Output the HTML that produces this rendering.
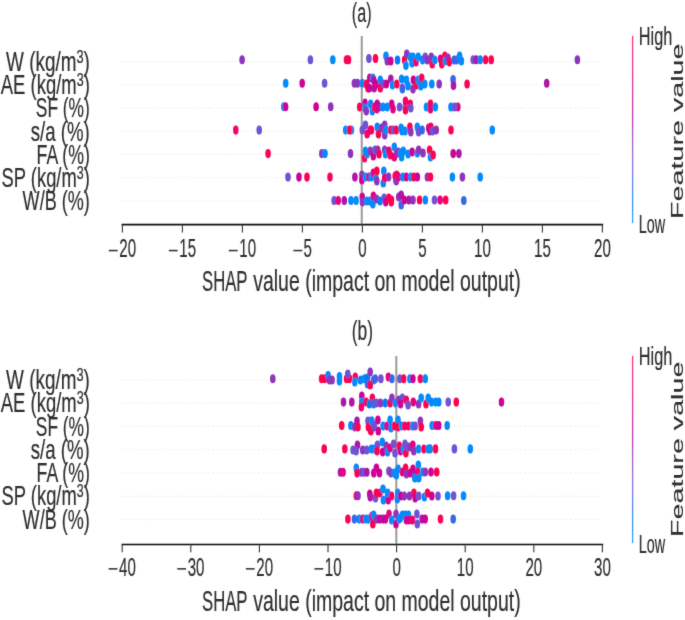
<!DOCTYPE html>
<html><head><meta charset="utf-8"><style>html,body{margin:0;padding:0;background:#fff;width:685px;height:620px;overflow:hidden}text{font-family:"Liberation Sans", sans-serif;stroke:#2e2e2e;stroke-width:0.2px} svg{display:block;will-change:transform;opacity:0.999}</style></head>
<body><svg width="685" height="620" viewBox="0 0 685 620" >
<defs><linearGradient id="cb" x1="0" y1="1" x2="0" y2="0"><stop offset="0.0" stop-color="#008bfb"/><stop offset="0.1" stop-color="#007cf5"/><stop offset="0.2" stop-color="#266cea"/><stop offset="0.3" stop-color="#6459da"/><stop offset="0.4" stop-color="#8542c5"/><stop offset="0.5" stop-color="#9d22ac"/><stop offset="0.6" stop-color="#b900a0"/><stop offset="0.7" stop-color="#d40090"/><stop offset="0.8" stop-color="#e9007c"/><stop offset="0.9" stop-color="#f80067"/><stop offset="1.0" stop-color="#ff0051"/></linearGradient></defs>
<filter id="bl" filterUnits="userSpaceOnUse" x="0" y="0" width="685" height="620"><feConvolveMatrix order="3" kernelMatrix="0.01134 0.08382 0.01134 0.08382 0.61935 0.08382 0.01134 0.08382 0.01134" divisor="1" preserveAlpha="false" edgeMode="none"/></filter>
<rect width="685" height="620" fill="#fff"/><g filter="url(#bl)">
<line x1="122.4" y1="61.50" x2="600" y2="61.50" stroke="#d8d8d8" stroke-width="0.9" stroke-dasharray="1 2.9"/>
<line x1="122.4" y1="84.75" x2="600" y2="84.75" stroke="#d8d8d8" stroke-width="0.9" stroke-dasharray="1 2.9"/>
<line x1="122.4" y1="108.00" x2="600" y2="108.00" stroke="#d8d8d8" stroke-width="0.9" stroke-dasharray="1 2.9"/>
<line x1="122.4" y1="131.25" x2="600" y2="131.25" stroke="#d8d8d8" stroke-width="0.9" stroke-dasharray="1 2.9"/>
<line x1="122.4" y1="154.50" x2="600" y2="154.50" stroke="#d8d8d8" stroke-width="0.9" stroke-dasharray="1 2.9"/>
<line x1="122.4" y1="177.75" x2="600" y2="177.75" stroke="#d8d8d8" stroke-width="0.9" stroke-dasharray="1 2.9"/>
<line x1="122.4" y1="201.00" x2="600" y2="201.00" stroke="#d8d8d8" stroke-width="0.9" stroke-dasharray="1 2.9"/>
<line x1="361.75" y1="36.0" x2="361.75" y2="224.6" stroke="#9a9a9a" stroke-width="2"/>
<ellipse cx="242.1" cy="59.8" rx="2.8" ry="4.55" fill="#8f36bb"/>
<ellipse cx="310.4" cy="59.8" rx="2.8" ry="4.55" fill="#6f52d4"/>
<ellipse cx="332.8" cy="59.8" rx="2.8" ry="4.55" fill="#008bfb"/>
<ellipse cx="346.5" cy="59.8" rx="2.8" ry="4.55" fill="#ff0051"/>
<ellipse cx="348.5" cy="59.8" rx="2.8" ry="4.55" fill="#ff0051"/>
<ellipse cx="368.9" cy="58.5" rx="2.8" ry="4.55" fill="#6f52d4"/>
<ellipse cx="375.5" cy="58.5" rx="2.8" ry="4.55" fill="#ff0051"/>
<ellipse cx="386.0" cy="56.0" rx="2.8" ry="4.55" fill="#008bfb"/>
<ellipse cx="387.3" cy="61.0" rx="2.8" ry="4.55" fill="#8f36bb"/>
<ellipse cx="390.8" cy="61.0" rx="2.8" ry="4.55" fill="#cd0095"/>
<ellipse cx="397.5" cy="60.0" rx="2.8" ry="4.55" fill="#007bf4"/>
<ellipse cx="404.6" cy="60.0" rx="2.8" ry="4.55" fill="#ff0051"/>
<ellipse cx="406.8" cy="54.0" rx="2.8" ry="4.55" fill="#8f36bb"/>
<ellipse cx="405.9" cy="65.5" rx="2.8" ry="4.55" fill="#008bfb"/>
<ellipse cx="410.3" cy="57.0" rx="2.8" ry="4.55" fill="#008bfb"/>
<ellipse cx="412.1" cy="63.0" rx="2.8" ry="4.55" fill="#008bfb"/>
<ellipse cx="413.0" cy="57.0" rx="2.8" ry="4.55" fill="#008bfb"/>
<ellipse cx="416.0" cy="62.0" rx="2.8" ry="4.55" fill="#f70069"/>
<ellipse cx="418.2" cy="57.0" rx="2.8" ry="4.55" fill="#008bfb"/>
<ellipse cx="422.6" cy="60.0" rx="2.8" ry="4.55" fill="#008bfb"/>
<ellipse cx="425.2" cy="57.0" rx="2.8" ry="4.55" fill="#6f52d4"/>
<ellipse cx="427.4" cy="60.0" rx="2.8" ry="4.55" fill="#8f36bb"/>
<ellipse cx="431.3" cy="57.0" rx="2.8" ry="4.55" fill="#8f36bb"/>
<ellipse cx="432.2" cy="64.0" rx="2.8" ry="4.55" fill="#ff0051"/>
<ellipse cx="434.8" cy="60.0" rx="2.8" ry="4.55" fill="#008bfb"/>
<ellipse cx="440.5" cy="59.0" rx="2.8" ry="4.55" fill="#e50080"/>
<ellipse cx="441.8" cy="64.0" rx="2.8" ry="4.55" fill="#ff0051"/>
<ellipse cx="444.9" cy="56.0" rx="2.8" ry="4.55" fill="#ff0051"/>
<ellipse cx="445.3" cy="61.0" rx="2.8" ry="4.55" fill="#008bfb"/>
<ellipse cx="448.0" cy="58.0" rx="2.8" ry="4.55" fill="#8f36bb"/>
<ellipse cx="449.3" cy="62.0" rx="2.8" ry="4.55" fill="#ff0051"/>
<ellipse cx="454.1" cy="60.0" rx="2.8" ry="4.55" fill="#3968e7"/>
<ellipse cx="456.6" cy="60.0" rx="2.8" ry="4.55" fill="#3968e7"/>
<ellipse cx="459.6" cy="56.0" rx="2.8" ry="4.55" fill="#008bfb"/>
<ellipse cx="461.4" cy="61.0" rx="2.8" ry="4.55" fill="#008bfb"/>
<ellipse cx="473.2" cy="59.8" rx="2.8" ry="4.55" fill="#6f52d4"/>
<ellipse cx="476.3" cy="59.8" rx="2.8" ry="4.55" fill="#ad13a6"/>
<ellipse cx="480.2" cy="59.8" rx="2.8" ry="4.55" fill="#008bfb"/>
<ellipse cx="485.5" cy="59.8" rx="2.8" ry="4.55" fill="#ff0051"/>
<ellipse cx="491.2" cy="59.8" rx="2.8" ry="4.55" fill="#ff0051"/>
<ellipse cx="577.4" cy="59.8" rx="2.8" ry="4.55" fill="#8f36bb"/>
<ellipse cx="285.7" cy="83.2" rx="2.8" ry="4.55" fill="#008bfb"/>
<ellipse cx="302.2" cy="83.2" rx="2.8" ry="4.55" fill="#cd0095"/>
<ellipse cx="324.6" cy="83.2" rx="2.8" ry="4.55" fill="#6f52d4"/>
<ellipse cx="354.4" cy="83.2" rx="2.8" ry="4.55" fill="#8f36bb"/>
<ellipse cx="357.5" cy="83.2" rx="2.8" ry="4.55" fill="#8f36bb"/>
<ellipse cx="362.3" cy="83.2" rx="2.8" ry="4.55" fill="#008bfb"/>
<ellipse cx="366.3" cy="84.0" rx="2.8" ry="4.55" fill="#ff0051"/>
<ellipse cx="368.0" cy="88.0" rx="2.8" ry="4.55" fill="#ff0051"/>
<ellipse cx="369.8" cy="78.0" rx="2.8" ry="4.55" fill="#cd0095"/>
<ellipse cx="369.3" cy="88.0" rx="2.8" ry="4.55" fill="#cd0095"/>
<ellipse cx="372.8" cy="78.0" rx="2.8" ry="4.55" fill="#008bfb"/>
<ellipse cx="373.7" cy="80.0" rx="2.8" ry="4.55" fill="#ad13a6"/>
<ellipse cx="374.2" cy="88.0" rx="2.8" ry="4.55" fill="#ad13a6"/>
<ellipse cx="375.9" cy="84.0" rx="2.8" ry="4.55" fill="#cd0095"/>
<ellipse cx="380.3" cy="80.0" rx="2.8" ry="4.55" fill="#008bfb"/>
<ellipse cx="380.3" cy="88.0" rx="2.8" ry="4.55" fill="#ff0051"/>
<ellipse cx="383.3" cy="84.0" rx="2.8" ry="4.55" fill="#6f52d4"/>
<ellipse cx="386.4" cy="84.0" rx="2.8" ry="4.55" fill="#cd0095"/>
<ellipse cx="390.8" cy="79.0" rx="2.8" ry="4.55" fill="#ad13a6"/>
<ellipse cx="392.5" cy="85.0" rx="2.8" ry="4.55" fill="#008bfb"/>
<ellipse cx="396.8" cy="84.0" rx="2.8" ry="4.55" fill="#ff0051"/>
<ellipse cx="401.6" cy="79.0" rx="2.8" ry="4.55" fill="#008bfb"/>
<ellipse cx="402.4" cy="88.0" rx="2.8" ry="4.55" fill="#8f36bb"/>
<ellipse cx="402.4" cy="89.0" rx="2.8" ry="4.55" fill="#3968e7"/>
<ellipse cx="406.4" cy="80.0" rx="2.8" ry="4.55" fill="#008bfb"/>
<ellipse cx="408.1" cy="86.0" rx="2.8" ry="4.55" fill="#008bfb"/>
<ellipse cx="413.4" cy="80.0" rx="2.8" ry="4.55" fill="#cd0095"/>
<ellipse cx="413.0" cy="89.0" rx="2.8" ry="4.55" fill="#8f36bb"/>
<ellipse cx="416.5" cy="85.0" rx="2.8" ry="4.55" fill="#ff0051"/>
<ellipse cx="418.2" cy="80.0" rx="2.8" ry="4.55" fill="#008bfb"/>
<ellipse cx="421.7" cy="78.0" rx="2.8" ry="4.55" fill="#ff0051"/>
<ellipse cx="420.8" cy="86.0" rx="2.8" ry="4.55" fill="#008bfb"/>
<ellipse cx="424.8" cy="84.0" rx="2.8" ry="4.55" fill="#008bfb"/>
<ellipse cx="431.8" cy="84.0" rx="2.8" ry="4.55" fill="#008bfb"/>
<ellipse cx="439.2" cy="84.0" rx="2.8" ry="4.55" fill="#8f36bb"/>
<ellipse cx="453.1" cy="79.5" rx="2.8" ry="4.55" fill="#3968e7"/>
<ellipse cx="453.5" cy="85.5" rx="2.8" ry="4.55" fill="#ad13a6"/>
<ellipse cx="467.1" cy="84.0" rx="2.8" ry="4.55" fill="#ff0051"/>
<ellipse cx="546.7" cy="83.2" rx="2.8" ry="4.55" fill="#ad13a6"/>
<ellipse cx="283.8" cy="106.7" rx="2.8" ry="4.55" fill="#008bfb"/>
<ellipse cx="285.6" cy="106.7" rx="2.8" ry="4.55" fill="#cd0095"/>
<ellipse cx="316.1" cy="106.7" rx="2.8" ry="4.55" fill="#cd0095"/>
<ellipse cx="330.7" cy="106.7" rx="2.8" ry="4.55" fill="#8f36bb"/>
<ellipse cx="359.7" cy="107.0" rx="2.8" ry="4.55" fill="#ff0051"/>
<ellipse cx="365.0" cy="103.0" rx="2.8" ry="4.55" fill="#cd0095"/>
<ellipse cx="365.0" cy="108.0" rx="2.8" ry="4.55" fill="#008bfb"/>
<ellipse cx="366.3" cy="111.0" rx="2.8" ry="4.55" fill="#8f36bb"/>
<ellipse cx="370.6" cy="104.0" rx="2.8" ry="4.55" fill="#008bfb"/>
<ellipse cx="372.4" cy="111.0" rx="2.8" ry="4.55" fill="#008bfb"/>
<ellipse cx="374.6" cy="107.0" rx="2.8" ry="4.55" fill="#f70069"/>
<ellipse cx="377.2" cy="104.0" rx="2.8" ry="4.55" fill="#cd0095"/>
<ellipse cx="376.8" cy="109.0" rx="2.8" ry="4.55" fill="#f70069"/>
<ellipse cx="379.4" cy="107.0" rx="2.8" ry="4.55" fill="#ad13a6"/>
<ellipse cx="382.9" cy="107.0" rx="2.8" ry="4.55" fill="#008bfb"/>
<ellipse cx="387.3" cy="107.0" rx="2.8" ry="4.55" fill="#008bfb"/>
<ellipse cx="391.7" cy="104.0" rx="2.8" ry="4.55" fill="#cd0095"/>
<ellipse cx="393.0" cy="109.0" rx="2.8" ry="4.55" fill="#e50080"/>
<ellipse cx="399.5" cy="107.0" rx="2.8" ry="4.55" fill="#6f52d4"/>
<ellipse cx="405.1" cy="107.0" rx="2.8" ry="4.55" fill="#008bfb"/>
<ellipse cx="405.5" cy="101.0" rx="2.8" ry="4.55" fill="#f70069"/>
<ellipse cx="405.5" cy="110.0" rx="2.8" ry="4.55" fill="#ff0051"/>
<ellipse cx="410.3" cy="104.0" rx="2.8" ry="4.55" fill="#ff0051"/>
<ellipse cx="410.8" cy="108.0" rx="2.8" ry="4.55" fill="#6f52d4"/>
<ellipse cx="426.5" cy="107.0" rx="2.8" ry="4.55" fill="#008bfb"/>
<ellipse cx="430.5" cy="104.0" rx="2.8" ry="4.55" fill="#ff0051"/>
<ellipse cx="430.5" cy="109.0" rx="2.8" ry="4.55" fill="#e50080"/>
<ellipse cx="435.3" cy="107.0" rx="2.8" ry="4.55" fill="#008bfb"/>
<ellipse cx="451.0" cy="107.0" rx="2.8" ry="4.55" fill="#008bfb"/>
<ellipse cx="457.8" cy="107.0" rx="2.8" ry="4.55" fill="#e50080"/>
<ellipse cx="454.5" cy="107.0" rx="2.8" ry="4.55" fill="#6f52d4"/>
<ellipse cx="235.8" cy="130.1" rx="2.8" ry="4.55" fill="#f70069"/>
<ellipse cx="259.2" cy="130.1" rx="2.8" ry="4.55" fill="#6f52d4"/>
<ellipse cx="345.7" cy="130.1" rx="2.8" ry="4.55" fill="#008bfb"/>
<ellipse cx="351.4" cy="130.1" rx="2.8" ry="4.55" fill="#008bfb"/>
<ellipse cx="349.6" cy="130.1" rx="2.8" ry="4.55" fill="#ff0051"/>
<ellipse cx="362.3" cy="130.0" rx="2.8" ry="4.55" fill="#6f52d4"/>
<ellipse cx="365.4" cy="125.0" rx="2.8" ry="4.55" fill="#6f52d4"/>
<ellipse cx="367.1" cy="134.0" rx="2.8" ry="4.55" fill="#f70069"/>
<ellipse cx="370.2" cy="130.0" rx="2.8" ry="4.55" fill="#e50080"/>
<ellipse cx="371.5" cy="130.0" rx="2.8" ry="4.55" fill="#ff0051"/>
<ellipse cx="377.2" cy="127.0" rx="2.8" ry="4.55" fill="#008bfb"/>
<ellipse cx="378.5" cy="134.0" rx="2.8" ry="4.55" fill="#ff0051"/>
<ellipse cx="381.6" cy="128.0" rx="2.8" ry="4.55" fill="#8f36bb"/>
<ellipse cx="384.7" cy="125.0" rx="2.8" ry="4.55" fill="#8f36bb"/>
<ellipse cx="384.7" cy="135.0" rx="2.8" ry="4.55" fill="#8f36bb"/>
<ellipse cx="386.0" cy="130.0" rx="2.8" ry="4.55" fill="#008bfb"/>
<ellipse cx="390.8" cy="130.0" rx="2.8" ry="4.55" fill="#ff0051"/>
<ellipse cx="393.4" cy="130.0" rx="2.8" ry="4.55" fill="#6f52d4"/>
<ellipse cx="396.3" cy="130.0" rx="2.8" ry="4.55" fill="#ff0051"/>
<ellipse cx="401.1" cy="128.0" rx="2.8" ry="4.55" fill="#008bfb"/>
<ellipse cx="402.0" cy="131.0" rx="2.8" ry="4.55" fill="#008bfb"/>
<ellipse cx="405.1" cy="131.0" rx="2.8" ry="4.55" fill="#008bfb"/>
<ellipse cx="409.9" cy="127.0" rx="2.8" ry="4.55" fill="#ff0051"/>
<ellipse cx="410.8" cy="132.0" rx="2.8" ry="4.55" fill="#8f36bb"/>
<ellipse cx="417.3" cy="127.0" rx="2.8" ry="4.55" fill="#008bfb"/>
<ellipse cx="418.6" cy="132.0" rx="2.8" ry="4.55" fill="#6f52d4"/>
<ellipse cx="422.1" cy="130.0" rx="2.8" ry="4.55" fill="#3968e7"/>
<ellipse cx="428.7" cy="128.0" rx="2.8" ry="4.55" fill="#ad13a6"/>
<ellipse cx="430.0" cy="131.0" rx="2.8" ry="4.55" fill="#cd0095"/>
<ellipse cx="430.9" cy="127.0" rx="2.8" ry="4.55" fill="#ff0051"/>
<ellipse cx="432.7" cy="131.0" rx="2.8" ry="4.55" fill="#6f52d4"/>
<ellipse cx="436.2" cy="130.0" rx="2.8" ry="4.55" fill="#8f36bb"/>
<ellipse cx="451.0" cy="130.0" rx="2.8" ry="4.55" fill="#ff0051"/>
<ellipse cx="492.3" cy="130.1" rx="2.8" ry="4.55" fill="#008bfb"/>
<ellipse cx="268.1" cy="153.6" rx="2.8" ry="4.55" fill="#ff0051"/>
<ellipse cx="321.8" cy="153.6" rx="2.8" ry="4.55" fill="#8f36bb"/>
<ellipse cx="325.0" cy="153.6" rx="2.8" ry="4.55" fill="#008bfb"/>
<ellipse cx="350.5" cy="153.6" rx="2.8" ry="4.55" fill="#8f36bb"/>
<ellipse cx="364.5" cy="158.0" rx="2.8" ry="4.55" fill="#ff0051"/>
<ellipse cx="365.4" cy="151.0" rx="2.8" ry="4.55" fill="#008bfb"/>
<ellipse cx="367.1" cy="154.0" rx="2.8" ry="4.55" fill="#008bfb"/>
<ellipse cx="370.2" cy="151.0" rx="2.8" ry="4.55" fill="#8f36bb"/>
<ellipse cx="373.3" cy="156.0" rx="2.8" ry="4.55" fill="#cd0095"/>
<ellipse cx="375.0" cy="150.0" rx="2.8" ry="4.55" fill="#6f52d4"/>
<ellipse cx="377.7" cy="150.0" rx="2.8" ry="4.55" fill="#8f36bb"/>
<ellipse cx="379.0" cy="154.0" rx="2.8" ry="4.55" fill="#ff0051"/>
<ellipse cx="384.7" cy="150.0" rx="2.8" ry="4.55" fill="#8f36bb"/>
<ellipse cx="385.5" cy="154.0" rx="2.8" ry="4.55" fill="#008bfb"/>
<ellipse cx="389.0" cy="151.0" rx="2.8" ry="4.55" fill="#e50080"/>
<ellipse cx="390.3" cy="155.0" rx="2.8" ry="4.55" fill="#ff0051"/>
<ellipse cx="394.3" cy="147.0" rx="2.8" ry="4.55" fill="#008bfb"/>
<ellipse cx="394.3" cy="157.0" rx="2.8" ry="4.55" fill="#e50080"/>
<ellipse cx="396.9" cy="153.0" rx="2.8" ry="4.55" fill="#8f36bb"/>
<ellipse cx="398.7" cy="153.0" rx="2.8" ry="4.55" fill="#ff0051"/>
<ellipse cx="398.5" cy="152.0" rx="2.8" ry="4.55" fill="#8f36bb"/>
<ellipse cx="400.7" cy="153.0" rx="2.8" ry="4.55" fill="#008bfb"/>
<ellipse cx="401.6" cy="157.0" rx="2.8" ry="4.55" fill="#008bfb"/>
<ellipse cx="403.3" cy="151.0" rx="2.8" ry="4.55" fill="#008bfb"/>
<ellipse cx="408.1" cy="154.0" rx="2.8" ry="4.55" fill="#008bfb"/>
<ellipse cx="412.1" cy="152.0" rx="2.8" ry="4.55" fill="#cd0095"/>
<ellipse cx="417.3" cy="153.0" rx="2.8" ry="4.55" fill="#008bfb"/>
<ellipse cx="418.6" cy="150.0" rx="2.8" ry="4.55" fill="#8f36bb"/>
<ellipse cx="423.0" cy="153.0" rx="2.8" ry="4.55" fill="#8f36bb"/>
<ellipse cx="429.6" cy="150.0" rx="2.8" ry="4.55" fill="#ff0051"/>
<ellipse cx="430.5" cy="157.0" rx="2.8" ry="4.55" fill="#008bfb"/>
<ellipse cx="433.1" cy="155.0" rx="2.8" ry="4.55" fill="#ff0051"/>
<ellipse cx="453.2" cy="153.6" rx="2.8" ry="4.55" fill="#cd0095"/>
<ellipse cx="458.9" cy="153.6" rx="2.8" ry="4.55" fill="#ad13a6"/>
<ellipse cx="288.0" cy="177.1" rx="2.8" ry="4.55" fill="#6f52d4"/>
<ellipse cx="299.0" cy="177.1" rx="2.8" ry="4.55" fill="#cd0095"/>
<ellipse cx="307.0" cy="177.1" rx="2.8" ry="4.55" fill="#ff0051"/>
<ellipse cx="330.0" cy="177.1" rx="2.8" ry="4.55" fill="#f70069"/>
<ellipse cx="354.9" cy="177.1" rx="2.8" ry="4.55" fill="#ad13a6"/>
<ellipse cx="361.9" cy="175.0" rx="2.8" ry="4.55" fill="#8f36bb"/>
<ellipse cx="361.9" cy="180.0" rx="2.8" ry="4.55" fill="#cd0095"/>
<ellipse cx="365.4" cy="177.0" rx="2.8" ry="4.55" fill="#008bfb"/>
<ellipse cx="368.9" cy="177.0" rx="2.8" ry="4.55" fill="#cd0095"/>
<ellipse cx="371.1" cy="177.0" rx="2.8" ry="4.55" fill="#008bfb"/>
<ellipse cx="373.3" cy="173.0" rx="2.8" ry="4.55" fill="#e50080"/>
<ellipse cx="375.9" cy="178.0" rx="2.8" ry="4.55" fill="#008bfb"/>
<ellipse cx="376.8" cy="171.0" rx="2.8" ry="4.55" fill="#ff0051"/>
<ellipse cx="376.8" cy="181.0" rx="2.8" ry="4.55" fill="#8f36bb"/>
<ellipse cx="383.8" cy="171.0" rx="2.8" ry="4.55" fill="#008bfb"/>
<ellipse cx="383.3" cy="183.0" rx="2.8" ry="4.55" fill="#008bfb"/>
<ellipse cx="384.7" cy="178.0" rx="2.8" ry="4.55" fill="#f70069"/>
<ellipse cx="388.6" cy="177.0" rx="2.8" ry="4.55" fill="#8f36bb"/>
<ellipse cx="395.2" cy="176.0" rx="2.8" ry="4.55" fill="#ff0051"/>
<ellipse cx="396.0" cy="180.0" rx="2.8" ry="4.55" fill="#cd0095"/>
<ellipse cx="396.8" cy="175.0" rx="2.8" ry="4.55" fill="#ff0051"/>
<ellipse cx="396.3" cy="181.0" rx="2.8" ry="4.55" fill="#8f36bb"/>
<ellipse cx="398.5" cy="177.0" rx="2.8" ry="4.55" fill="#e50080"/>
<ellipse cx="402.9" cy="177.0" rx="2.8" ry="4.55" fill="#008bfb"/>
<ellipse cx="406.4" cy="177.0" rx="2.8" ry="4.55" fill="#cd0095"/>
<ellipse cx="410.8" cy="177.0" rx="2.8" ry="4.55" fill="#008bfb"/>
<ellipse cx="413.8" cy="177.0" rx="2.8" ry="4.55" fill="#ff0051"/>
<ellipse cx="417.3" cy="177.0" rx="2.8" ry="4.55" fill="#cd0095"/>
<ellipse cx="427.4" cy="177.0" rx="2.8" ry="4.55" fill="#8f36bb"/>
<ellipse cx="430.5" cy="177.0" rx="2.8" ry="4.55" fill="#ff0051"/>
<ellipse cx="452.4" cy="177.1" rx="2.8" ry="4.55" fill="#008bfb"/>
<ellipse cx="462.4" cy="177.1" rx="2.8" ry="4.55" fill="#8f36bb"/>
<ellipse cx="480.2" cy="177.1" rx="2.8" ry="4.55" fill="#008bfb"/>
<ellipse cx="334.1" cy="200.5" rx="2.8" ry="4.55" fill="#6f52d4"/>
<ellipse cx="338.2" cy="200.5" rx="2.8" ry="4.55" fill="#e50080"/>
<ellipse cx="344.3" cy="200.5" rx="2.8" ry="4.55" fill="#ad13a6"/>
<ellipse cx="351.0" cy="200.5" rx="2.8" ry="4.55" fill="#008bfb"/>
<ellipse cx="356.1" cy="200.5" rx="2.8" ry="4.55" fill="#008bfb"/>
<ellipse cx="362.2" cy="197.0" rx="2.8" ry="4.55" fill="#cd0095"/>
<ellipse cx="362.5" cy="202.0" rx="2.8" ry="4.55" fill="#8f36bb"/>
<ellipse cx="366.8" cy="201.0" rx="2.8" ry="4.55" fill="#008bfb"/>
<ellipse cx="369.9" cy="201.0" rx="2.8" ry="4.55" fill="#008bfb"/>
<ellipse cx="373.4" cy="196.0" rx="2.8" ry="4.55" fill="#e50080"/>
<ellipse cx="372.9" cy="204.0" rx="2.8" ry="4.55" fill="#008bfb"/>
<ellipse cx="376.5" cy="199.0" rx="2.8" ry="4.55" fill="#8f36bb"/>
<ellipse cx="380.1" cy="201.0" rx="2.8" ry="4.55" fill="#007bf4"/>
<ellipse cx="384.2" cy="198.0" rx="2.8" ry="4.55" fill="#6f52d4"/>
<ellipse cx="385.7" cy="202.0" rx="2.8" ry="4.55" fill="#cd0095"/>
<ellipse cx="388.8" cy="198.0" rx="2.8" ry="4.55" fill="#ff0051"/>
<ellipse cx="391.3" cy="202.0" rx="2.8" ry="4.55" fill="#ff0051"/>
<ellipse cx="391.5" cy="200.0" rx="2.8" ry="4.55" fill="#ff0051"/>
<ellipse cx="398.7" cy="197.0" rx="2.8" ry="4.55" fill="#8f36bb"/>
<ellipse cx="401.2" cy="195.0" rx="2.8" ry="4.55" fill="#ad13a6"/>
<ellipse cx="401.2" cy="205.0" rx="2.8" ry="4.55" fill="#3968e7"/>
<ellipse cx="404.3" cy="200.0" rx="2.8" ry="4.55" fill="#cd0095"/>
<ellipse cx="408.9" cy="200.0" rx="2.8" ry="4.55" fill="#ad13a6"/>
<ellipse cx="413.0" cy="200.0" rx="2.8" ry="4.55" fill="#8f36bb"/>
<ellipse cx="419.6" cy="200.0" rx="2.8" ry="4.55" fill="#ff0051"/>
<ellipse cx="425.3" cy="200.0" rx="2.8" ry="4.55" fill="#008bfb"/>
<ellipse cx="434.5" cy="200.0" rx="2.8" ry="4.55" fill="#6f52d4"/>
<ellipse cx="440.1" cy="200.0" rx="2.8" ry="4.55" fill="#e50080"/>
<ellipse cx="445.7" cy="200.0" rx="2.8" ry="4.55" fill="#ff0051"/>
<ellipse cx="463.8" cy="200.5" rx="2.8" ry="4.55" fill="#3968e7"/>
<line x1="121.6" y1="224.6" x2="603.2" y2="224.6" stroke="#111" stroke-width="1.7"/>
<line x1="122.40" y1="224.6" x2="122.40" y2="232.4" stroke="#333" stroke-width="1.1"/>
<rect x="108.85" y="249.80" width="8.8" height="1.5" fill="#2e2e2e"/>
<text x="127.65" y="257.3" font-size="26" text-anchor="middle" fill="#2e2e2e" transform="translate(127.65 0) scale(0.58 1) translate(-127.65 0)">20</text>
<line x1="182.40" y1="224.6" x2="182.40" y2="232.4" stroke="#333" stroke-width="1.1"/>
<rect x="168.85" y="249.80" width="8.8" height="1.5" fill="#2e2e2e"/>
<text x="187.65" y="257.3" font-size="26" text-anchor="middle" fill="#2e2e2e" transform="translate(187.65 0) scale(0.58 1) translate(-187.65 0)">15</text>
<line x1="242.40" y1="224.6" x2="242.40" y2="232.4" stroke="#333" stroke-width="1.1"/>
<rect x="228.85" y="249.80" width="8.8" height="1.5" fill="#2e2e2e"/>
<text x="247.65" y="257.3" font-size="26" text-anchor="middle" fill="#2e2e2e" transform="translate(247.65 0) scale(0.58 1) translate(-247.65 0)">10</text>
<line x1="302.40" y1="224.6" x2="302.40" y2="232.4" stroke="#333" stroke-width="1.1"/>
<rect x="293.45" y="249.80" width="8.8" height="1.5" fill="#2e2e2e"/>
<text x="307.65" y="257.3" font-size="26" text-anchor="middle" fill="#2e2e2e" transform="translate(307.65 0) scale(0.58 1) translate(-307.65 0)">5</text>
<line x1="362.40" y1="224.6" x2="362.40" y2="232.4" stroke="#333" stroke-width="1.1"/>
<text x="362.40" y="257.3" font-size="26" text-anchor="middle" fill="#2e2e2e" transform="translate(362.40 0) scale(0.58 1) translate(-362.40 0)">0</text>
<line x1="422.40" y1="224.6" x2="422.40" y2="232.4" stroke="#333" stroke-width="1.1"/>
<text x="422.40" y="257.3" font-size="26" text-anchor="middle" fill="#2e2e2e" transform="translate(422.40 0) scale(0.58 1) translate(-422.40 0)">5</text>
<line x1="482.40" y1="224.6" x2="482.40" y2="232.4" stroke="#333" stroke-width="1.1"/>
<text x="482.40" y="257.3" font-size="26" text-anchor="middle" fill="#2e2e2e" transform="translate(482.40 0) scale(0.58 1) translate(-482.40 0)">10</text>
<line x1="542.40" y1="224.6" x2="542.40" y2="232.4" stroke="#333" stroke-width="1.1"/>
<text x="542.40" y="257.3" font-size="26" text-anchor="middle" fill="#2e2e2e" transform="translate(542.40 0) scale(0.58 1) translate(-542.40 0)">15</text>
<line x1="602.40" y1="224.6" x2="602.40" y2="232.4" stroke="#333" stroke-width="1.1"/>
<text x="602.40" y="257.3" font-size="26" text-anchor="middle" fill="#2e2e2e" transform="translate(602.40 0) scale(0.58 1) translate(-602.40 0)">20</text>
<text x="89.8" y="70.80" font-size="28" text-anchor="end" textLength="83.7" lengthAdjust="spacingAndGlyphs" fill="#2e2e2e" >W (kg/m<tspan font-size="19" dy="-8">3</tspan><tspan dy="8">)</tspan></text>
<text x="89.8" y="94.05" font-size="28" text-anchor="end" textLength="89" lengthAdjust="spacingAndGlyphs" fill="#2e2e2e" >AE (kg/m<tspan font-size="19" dy="-8">3</tspan><tspan dy="8">)</tspan></text>
<text x="89.8" y="117.30" font-size="28" text-anchor="end" textLength="54" lengthAdjust="spacingAndGlyphs" fill="#2e2e2e" >SF (%)</text>
<text x="89.8" y="140.55" font-size="28" text-anchor="end" textLength="59" lengthAdjust="spacingAndGlyphs" fill="#2e2e2e" >s/a (%)</text>
<text x="89.8" y="163.80" font-size="28" text-anchor="end" textLength="53.2" lengthAdjust="spacingAndGlyphs" fill="#2e2e2e" >FA (%)</text>
<text x="89.8" y="187.05" font-size="28" text-anchor="end" textLength="88.2" lengthAdjust="spacingAndGlyphs" fill="#2e2e2e" >SP (kg/m<tspan font-size="19" dy="-8">3</tspan><tspan dy="8">)</tspan></text>
<text x="89.8" y="210.30" font-size="28" text-anchor="end" textLength="67.2" lengthAdjust="spacingAndGlyphs" fill="#2e2e2e" >W/B (%)</text>
<text x="202.0" y="291.0" font-size="29.8" text-anchor="start" textLength="45.5" lengthAdjust="spacingAndGlyphs" fill="#2e2e2e" >SHAP</text>
<text x="253.2" y="291.0" font-size="29.8" text-anchor="start" textLength="267.5" lengthAdjust="spacingAndGlyphs" fill="#2e2e2e" >value (impact on model output)</text>
<text x="351.8" y="22.2" font-size="27" text-anchor="start" textLength="19.8" lengthAdjust="spacingAndGlyphs" fill="#2e2e2e" >(a)</text>
<rect x="631.95" y="35.8" width="1.3" height="187.30" fill="url(#cb)" opacity="0.8"/>
<text x="638.8" y="44.8" font-size="25" text-anchor="start" textLength="33.5" lengthAdjust="spacingAndGlyphs" fill="#2e2e2e" >High</text>
<text x="638.8" y="232.7" font-size="25" text-anchor="start" textLength="26.4" lengthAdjust="spacingAndGlyphs" fill="#2e2e2e" >Low</text>
<text transform="translate(682.9 218.9) rotate(-90)" font-size="16.8" style="stroke-width:0.1px" textLength="175.4" lengthAdjust="spacingAndGlyphs" fill="#2e2e2e">Feature value</text>
<line x1="122.4" y1="379.80" x2="600" y2="379.80" stroke="#d8d8d8" stroke-width="0.9" stroke-dasharray="1 2.9"/>
<line x1="122.4" y1="403.08" x2="600" y2="403.08" stroke="#d8d8d8" stroke-width="0.9" stroke-dasharray="1 2.9"/>
<line x1="122.4" y1="426.36" x2="600" y2="426.36" stroke="#d8d8d8" stroke-width="0.9" stroke-dasharray="1 2.9"/>
<line x1="122.4" y1="449.64" x2="600" y2="449.64" stroke="#d8d8d8" stroke-width="0.9" stroke-dasharray="1 2.9"/>
<line x1="122.4" y1="472.92" x2="600" y2="472.92" stroke="#d8d8d8" stroke-width="0.9" stroke-dasharray="1 2.9"/>
<line x1="122.4" y1="496.20" x2="600" y2="496.20" stroke="#d8d8d8" stroke-width="0.9" stroke-dasharray="1 2.9"/>
<line x1="122.4" y1="519.48" x2="600" y2="519.48" stroke="#d8d8d8" stroke-width="0.9" stroke-dasharray="1 2.9"/>
<line x1="396.3" y1="356" x2="396.3" y2="544.5" stroke="#9a9a9a" stroke-width="2"/>
<ellipse cx="272.8" cy="378.7" rx="2.8" ry="4.55" fill="#8f36bb"/>
<ellipse cx="321.6" cy="378.7" rx="2.8" ry="4.55" fill="#ff0051"/>
<ellipse cx="324.6" cy="378.7" rx="2.8" ry="4.55" fill="#ff0051"/>
<ellipse cx="328.1" cy="375.5" rx="2.8" ry="4.55" fill="#008bfb"/>
<ellipse cx="329.4" cy="380.0" rx="2.8" ry="4.55" fill="#8f36bb"/>
<ellipse cx="332.1" cy="380.0" rx="2.8" ry="4.55" fill="#8f36bb"/>
<ellipse cx="339.5" cy="376.5" rx="2.8" ry="4.55" fill="#008bfb"/>
<ellipse cx="339.5" cy="381.0" rx="2.8" ry="4.55" fill="#008bfb"/>
<ellipse cx="346.5" cy="378.7" rx="2.8" ry="4.55" fill="#ff0051"/>
<ellipse cx="349.6" cy="378.7" rx="2.8" ry="4.55" fill="#ff0051"/>
<ellipse cx="347.8" cy="374.0" rx="2.8" ry="4.55" fill="#6f52d4"/>
<ellipse cx="355.3" cy="377.0" rx="2.8" ry="4.55" fill="#f70069"/>
<ellipse cx="354.8" cy="382.0" rx="2.8" ry="4.55" fill="#008bfb"/>
<ellipse cx="360.5" cy="380.0" rx="2.8" ry="4.55" fill="#008bfb"/>
<ellipse cx="364.5" cy="378.7" rx="2.8" ry="4.55" fill="#008bfb"/>
<ellipse cx="367.5" cy="378.0" rx="2.8" ry="4.55" fill="#007bf4"/>
<ellipse cx="367.5" cy="384.0" rx="2.8" ry="4.55" fill="#3968e7"/>
<ellipse cx="370.2" cy="372.0" rx="2.8" ry="4.55" fill="#8f36bb"/>
<ellipse cx="370.2" cy="385.0" rx="2.8" ry="4.55" fill="#ff0051"/>
<ellipse cx="373.7" cy="380.0" rx="2.8" ry="4.55" fill="#6f52d4"/>
<ellipse cx="375.3" cy="378.7" rx="2.8" ry="4.55" fill="#3968e7"/>
<ellipse cx="380.9" cy="378.7" rx="2.8" ry="4.55" fill="#6f52d4"/>
<ellipse cx="388.4" cy="377.0" rx="2.8" ry="4.55" fill="#e50080"/>
<ellipse cx="391.9" cy="378.7" rx="2.8" ry="4.55" fill="#3968e7"/>
<ellipse cx="399.8" cy="378.7" rx="2.8" ry="4.55" fill="#6f52d4"/>
<ellipse cx="403.7" cy="378.7" rx="2.8" ry="4.55" fill="#ff0051"/>
<ellipse cx="409.8" cy="378.7" rx="2.8" ry="4.55" fill="#008bfb"/>
<ellipse cx="412.9" cy="378.7" rx="2.8" ry="4.55" fill="#cd0095"/>
<ellipse cx="420.4" cy="378.7" rx="2.8" ry="4.55" fill="#ff0051"/>
<ellipse cx="425.2" cy="378.7" rx="2.8" ry="4.55" fill="#008bfb"/>
<ellipse cx="343.5" cy="402.1" rx="2.8" ry="4.55" fill="#ad13a6"/>
<ellipse cx="351.8" cy="402.1" rx="2.8" ry="4.55" fill="#ad13a6"/>
<ellipse cx="361.8" cy="396.0" rx="2.8" ry="4.55" fill="#cd0095"/>
<ellipse cx="361.8" cy="402.0" rx="2.8" ry="4.55" fill="#008bfb"/>
<ellipse cx="361.4" cy="407.0" rx="2.8" ry="4.55" fill="#f70069"/>
<ellipse cx="366.2" cy="402.0" rx="2.8" ry="4.55" fill="#ff0051"/>
<ellipse cx="369.3" cy="404.0" rx="2.8" ry="4.55" fill="#007bf4"/>
<ellipse cx="372.4" cy="398.0" rx="2.8" ry="4.55" fill="#ff0051"/>
<ellipse cx="373.7" cy="404.0" rx="2.8" ry="4.55" fill="#008bfb"/>
<ellipse cx="373.5" cy="403.0" rx="2.8" ry="4.55" fill="#3968e7"/>
<ellipse cx="376.6" cy="403.0" rx="2.8" ry="4.55" fill="#6f52d4"/>
<ellipse cx="380.5" cy="403.0" rx="2.8" ry="4.55" fill="#8f36bb"/>
<ellipse cx="385.3" cy="403.0" rx="2.8" ry="4.55" fill="#007bf4"/>
<ellipse cx="390.1" cy="403.0" rx="2.8" ry="4.55" fill="#ff0051"/>
<ellipse cx="391.9" cy="398.0" rx="2.8" ry="4.55" fill="#8f36bb"/>
<ellipse cx="395.4" cy="403.0" rx="2.8" ry="4.55" fill="#008bfb"/>
<ellipse cx="398.9" cy="400.0" rx="2.8" ry="4.55" fill="#8f36bb"/>
<ellipse cx="402.4" cy="398.0" rx="2.8" ry="4.55" fill="#6f52d4"/>
<ellipse cx="400.6" cy="404.0" rx="2.8" ry="4.55" fill="#cd0095"/>
<ellipse cx="406.3" cy="400.0" rx="2.8" ry="4.55" fill="#ff0051"/>
<ellipse cx="408.1" cy="405.0" rx="2.8" ry="4.55" fill="#6f52d4"/>
<ellipse cx="413.3" cy="402.0" rx="2.8" ry="4.55" fill="#e50080"/>
<ellipse cx="418.6" cy="404.0" rx="2.8" ry="4.55" fill="#8f36bb"/>
<ellipse cx="421.2" cy="398.0" rx="2.8" ry="4.55" fill="#008bfb"/>
<ellipse cx="426.0" cy="404.0" rx="2.8" ry="4.55" fill="#ff0051"/>
<ellipse cx="428.2" cy="398.0" rx="2.8" ry="4.55" fill="#008bfb"/>
<ellipse cx="431.5" cy="402.1" rx="2.8" ry="4.55" fill="#008bfb"/>
<ellipse cx="435.8" cy="402.1" rx="2.8" ry="4.55" fill="#008bfb"/>
<ellipse cx="438.8" cy="402.1" rx="2.8" ry="4.55" fill="#008bfb"/>
<ellipse cx="448.2" cy="402.1" rx="2.8" ry="4.55" fill="#6f52d4"/>
<ellipse cx="456.3" cy="402.1" rx="2.8" ry="4.55" fill="#ff0051"/>
<ellipse cx="501.5" cy="402.1" rx="2.8" ry="4.55" fill="#cd0095"/>
<ellipse cx="341.7" cy="425.5" rx="2.8" ry="4.55" fill="#ff0051"/>
<ellipse cx="350.9" cy="425.5" rx="2.8" ry="4.55" fill="#008bfb"/>
<ellipse cx="354.8" cy="427.0" rx="2.8" ry="4.55" fill="#8f36bb"/>
<ellipse cx="357.0" cy="421.0" rx="2.8" ry="4.55" fill="#ad13a6"/>
<ellipse cx="357.9" cy="427.0" rx="2.8" ry="4.55" fill="#ff0051"/>
<ellipse cx="368.0" cy="421.0" rx="2.8" ry="4.55" fill="#6f52d4"/>
<ellipse cx="371.5" cy="421.0" rx="2.8" ry="4.55" fill="#6f52d4"/>
<ellipse cx="368.4" cy="427.0" rx="2.8" ry="4.55" fill="#ff0051"/>
<ellipse cx="371.0" cy="431.0" rx="2.8" ry="4.55" fill="#ff0051"/>
<ellipse cx="370.4" cy="430.0" rx="2.8" ry="4.55" fill="#ff0051"/>
<ellipse cx="371.8" cy="421.0" rx="2.8" ry="4.55" fill="#008bfb"/>
<ellipse cx="373.7" cy="427.0" rx="2.8" ry="4.55" fill="#8f36bb"/>
<ellipse cx="374.4" cy="425.0" rx="2.8" ry="4.55" fill="#6f52d4"/>
<ellipse cx="377.9" cy="420.0" rx="2.8" ry="4.55" fill="#cd0095"/>
<ellipse cx="378.3" cy="431.0" rx="2.8" ry="4.55" fill="#cd0095"/>
<ellipse cx="383.1" cy="426.0" rx="2.8" ry="4.55" fill="#008bfb"/>
<ellipse cx="387.1" cy="426.0" rx="2.8" ry="4.55" fill="#e50080"/>
<ellipse cx="390.1" cy="420.0" rx="2.8" ry="4.55" fill="#008bfb"/>
<ellipse cx="391.0" cy="428.0" rx="2.8" ry="4.55" fill="#008bfb"/>
<ellipse cx="394.5" cy="426.0" rx="2.8" ry="4.55" fill="#ff0051"/>
<ellipse cx="398.0" cy="420.0" rx="2.8" ry="4.55" fill="#008bfb"/>
<ellipse cx="398.0" cy="427.0" rx="2.8" ry="4.55" fill="#ff0051"/>
<ellipse cx="401.5" cy="426.0" rx="2.8" ry="4.55" fill="#008bfb"/>
<ellipse cx="404.6" cy="426.0" rx="2.8" ry="4.55" fill="#f70069"/>
<ellipse cx="408.5" cy="426.0" rx="2.8" ry="4.55" fill="#ff0051"/>
<ellipse cx="412.5" cy="426.0" rx="2.8" ry="4.55" fill="#008bfb"/>
<ellipse cx="415.1" cy="426.0" rx="2.8" ry="4.55" fill="#6f52d4"/>
<ellipse cx="420.4" cy="421.0" rx="2.8" ry="4.55" fill="#8f36bb"/>
<ellipse cx="421.2" cy="427.0" rx="2.8" ry="4.55" fill="#ff0051"/>
<ellipse cx="432.2" cy="425.5" rx="2.8" ry="4.55" fill="#008bfb"/>
<ellipse cx="435.8" cy="425.5" rx="2.8" ry="4.55" fill="#e50080"/>
<ellipse cx="438.8" cy="425.5" rx="2.8" ry="4.55" fill="#cd0095"/>
<ellipse cx="447.2" cy="425.5" rx="2.8" ry="4.55" fill="#008bfb"/>
<ellipse cx="324.2" cy="448.9" rx="2.8" ry="4.55" fill="#ff0051"/>
<ellipse cx="344.8" cy="448.9" rx="2.8" ry="4.55" fill="#ff0051"/>
<ellipse cx="353.1" cy="450.0" rx="2.8" ry="4.55" fill="#6f52d4"/>
<ellipse cx="357.5" cy="445.0" rx="2.8" ry="4.55" fill="#ad13a6"/>
<ellipse cx="356.2" cy="451.0" rx="2.8" ry="4.55" fill="#6f52d4"/>
<ellipse cx="362.7" cy="450.0" rx="2.8" ry="4.55" fill="#8f36bb"/>
<ellipse cx="366.7" cy="450.0" rx="2.8" ry="4.55" fill="#6f52d4"/>
<ellipse cx="371.3" cy="449.0" rx="2.8" ry="4.55" fill="#008bfb"/>
<ellipse cx="373.9" cy="449.0" rx="2.8" ry="4.55" fill="#008bfb"/>
<ellipse cx="377.4" cy="445.0" rx="2.8" ry="4.55" fill="#6f52d4"/>
<ellipse cx="377.0" cy="451.0" rx="2.8" ry="4.55" fill="#ff0051"/>
<ellipse cx="382.3" cy="442.0" rx="2.8" ry="4.55" fill="#008bfb"/>
<ellipse cx="382.7" cy="452.0" rx="2.8" ry="4.55" fill="#cd0095"/>
<ellipse cx="386.2" cy="446.0" rx="2.8" ry="4.55" fill="#8f36bb"/>
<ellipse cx="387.5" cy="452.0" rx="2.8" ry="4.55" fill="#008bfb"/>
<ellipse cx="390.1" cy="448.0" rx="2.8" ry="4.55" fill="#e50080"/>
<ellipse cx="393.6" cy="444.0" rx="2.8" ry="4.55" fill="#6f52d4"/>
<ellipse cx="395.0" cy="453.0" rx="2.8" ry="4.55" fill="#6f52d4"/>
<ellipse cx="399.3" cy="446.0" rx="2.8" ry="4.55" fill="#ff0051"/>
<ellipse cx="400.6" cy="451.0" rx="2.8" ry="4.55" fill="#cd0095"/>
<ellipse cx="403.3" cy="449.0" rx="2.8" ry="4.55" fill="#008bfb"/>
<ellipse cx="405.0" cy="444.0" rx="2.8" ry="4.55" fill="#6f52d4"/>
<ellipse cx="405.9" cy="453.0" rx="2.8" ry="4.55" fill="#ff0051"/>
<ellipse cx="407.7" cy="447.0" rx="2.8" ry="4.55" fill="#6f52d4"/>
<ellipse cx="410.3" cy="447.0" rx="2.8" ry="4.55" fill="#8f36bb"/>
<ellipse cx="412.9" cy="445.0" rx="2.8" ry="4.55" fill="#e50080"/>
<ellipse cx="413.8" cy="451.0" rx="2.8" ry="4.55" fill="#8f36bb"/>
<ellipse cx="418.6" cy="449.0" rx="2.8" ry="4.55" fill="#008bfb"/>
<ellipse cx="423.9" cy="449.0" rx="2.8" ry="4.55" fill="#ff0051"/>
<ellipse cx="428.2" cy="449.0" rx="2.8" ry="4.55" fill="#008bfb"/>
<ellipse cx="430.2" cy="448.9" rx="2.8" ry="4.55" fill="#008bfb"/>
<ellipse cx="435.5" cy="448.9" rx="2.8" ry="4.55" fill="#ff0051"/>
<ellipse cx="454.4" cy="448.9" rx="2.8" ry="4.55" fill="#6f52d4"/>
<ellipse cx="470.3" cy="448.9" rx="2.8" ry="4.55" fill="#008bfb"/>
<ellipse cx="340.5" cy="472.3" rx="2.8" ry="4.55" fill="#ad13a6"/>
<ellipse cx="343.1" cy="472.3" rx="2.8" ry="4.55" fill="#e50080"/>
<ellipse cx="356.3" cy="468.0" rx="2.8" ry="4.55" fill="#008bfb"/>
<ellipse cx="357.1" cy="473.0" rx="2.8" ry="4.55" fill="#ff0051"/>
<ellipse cx="361.5" cy="472.3" rx="2.8" ry="4.55" fill="#8f36bb"/>
<ellipse cx="363.7" cy="472.3" rx="2.8" ry="4.55" fill="#6f52d4"/>
<ellipse cx="366.8" cy="472.3" rx="2.8" ry="4.55" fill="#ad13a6"/>
<ellipse cx="373.8" cy="473.0" rx="2.8" ry="4.55" fill="#cd0095"/>
<ellipse cx="376.4" cy="468.0" rx="2.8" ry="4.55" fill="#cd0095"/>
<ellipse cx="379.5" cy="473.0" rx="2.8" ry="4.55" fill="#cd0095"/>
<ellipse cx="388.9" cy="471.0" rx="2.8" ry="4.55" fill="#6f52d4"/>
<ellipse cx="391.1" cy="473.0" rx="2.8" ry="4.55" fill="#8f36bb"/>
<ellipse cx="394.2" cy="473.0" rx="2.8" ry="4.55" fill="#008bfb"/>
<ellipse cx="398.1" cy="469.0" rx="2.8" ry="4.55" fill="#008bfb"/>
<ellipse cx="396.4" cy="475.0" rx="2.8" ry="4.55" fill="#008bfb"/>
<ellipse cx="402.5" cy="472.0" rx="2.8" ry="4.55" fill="#e50080"/>
<ellipse cx="405.6" cy="468.0" rx="2.8" ry="4.55" fill="#ff0051"/>
<ellipse cx="406.5" cy="474.0" rx="2.8" ry="4.55" fill="#8f36bb"/>
<ellipse cx="410.4" cy="473.0" rx="2.8" ry="4.55" fill="#cd0095"/>
<ellipse cx="413.0" cy="469.0" rx="2.8" ry="4.55" fill="#cd0095"/>
<ellipse cx="414.3" cy="475.0" rx="2.8" ry="4.55" fill="#ad13a6"/>
<ellipse cx="414.8" cy="478.0" rx="2.8" ry="4.55" fill="#008bfb"/>
<ellipse cx="418.3" cy="465.0" rx="2.8" ry="4.55" fill="#008bfb"/>
<ellipse cx="417.8" cy="472.0" rx="2.8" ry="4.55" fill="#f70069"/>
<ellipse cx="418.7" cy="478.0" rx="2.8" ry="4.55" fill="#008bfb"/>
<ellipse cx="422.7" cy="472.0" rx="2.8" ry="4.55" fill="#008bfb"/>
<ellipse cx="425.3" cy="472.0" rx="2.8" ry="4.55" fill="#8f36bb"/>
<ellipse cx="431.0" cy="472.0" rx="2.8" ry="4.55" fill="#cd0095"/>
<ellipse cx="436.7" cy="472.0" rx="2.8" ry="4.55" fill="#ff0051"/>
<ellipse cx="356.3" cy="495.7" rx="2.8" ry="4.55" fill="#f70069"/>
<ellipse cx="358.0" cy="495.7" rx="2.8" ry="4.55" fill="#8f36bb"/>
<ellipse cx="369.8" cy="494.0" rx="2.8" ry="4.55" fill="#cd0095"/>
<ellipse cx="370.3" cy="497.0" rx="2.8" ry="4.55" fill="#ad13a6"/>
<ellipse cx="375.5" cy="498.0" rx="2.8" ry="4.55" fill="#6f52d4"/>
<ellipse cx="376.4" cy="493.0" rx="2.8" ry="4.55" fill="#ff0051"/>
<ellipse cx="379.9" cy="493.0" rx="2.8" ry="4.55" fill="#ff0051"/>
<ellipse cx="383.0" cy="489.0" rx="2.8" ry="4.55" fill="#008bfb"/>
<ellipse cx="383.4" cy="500.0" rx="2.8" ry="4.55" fill="#008bfb"/>
<ellipse cx="387.8" cy="494.0" rx="2.8" ry="4.55" fill="#008bfb"/>
<ellipse cx="388.2" cy="500.0" rx="2.8" ry="4.55" fill="#cd0095"/>
<ellipse cx="387.6" cy="493.0" rx="2.8" ry="4.55" fill="#008bfb"/>
<ellipse cx="391.6" cy="496.0" rx="2.8" ry="4.55" fill="#f70069"/>
<ellipse cx="397.7" cy="493.0" rx="2.8" ry="4.55" fill="#008bfb"/>
<ellipse cx="397.3" cy="499.0" rx="2.8" ry="4.55" fill="#008bfb"/>
<ellipse cx="400.8" cy="496.0" rx="2.8" ry="4.55" fill="#cd0095"/>
<ellipse cx="404.3" cy="496.0" rx="2.8" ry="4.55" fill="#8f36bb"/>
<ellipse cx="409.5" cy="496.0" rx="2.8" ry="4.55" fill="#8f36bb"/>
<ellipse cx="413.9" cy="493.0" rx="2.8" ry="4.55" fill="#ff0051"/>
<ellipse cx="415.2" cy="498.0" rx="2.8" ry="4.55" fill="#cd0095"/>
<ellipse cx="418.7" cy="496.0" rx="2.8" ry="4.55" fill="#6f52d4"/>
<ellipse cx="424.4" cy="497.0" rx="2.8" ry="4.55" fill="#008bfb"/>
<ellipse cx="427.5" cy="493.0" rx="2.8" ry="4.55" fill="#ff0051"/>
<ellipse cx="431.8" cy="496.0" rx="2.8" ry="4.55" fill="#cd0095"/>
<ellipse cx="438.0" cy="496.0" rx="2.8" ry="4.55" fill="#6f52d4"/>
<ellipse cx="447.6" cy="495.7" rx="2.8" ry="4.55" fill="#008bfb"/>
<ellipse cx="453.6" cy="495.7" rx="2.8" ry="4.55" fill="#6f52d4"/>
<ellipse cx="463.5" cy="495.7" rx="2.8" ry="4.55" fill="#008bfb"/>
<ellipse cx="347.9" cy="519.1" rx="2.8" ry="4.55" fill="#ff0051"/>
<ellipse cx="354.4" cy="519.1" rx="2.8" ry="4.55" fill="#3968e7"/>
<ellipse cx="359.3" cy="519.1" rx="2.8" ry="4.55" fill="#008bfb"/>
<ellipse cx="362.8" cy="519.1" rx="2.8" ry="4.55" fill="#e50080"/>
<ellipse cx="365.8" cy="519.1" rx="2.8" ry="4.55" fill="#008bfb"/>
<ellipse cx="368.5" cy="519.1" rx="2.8" ry="4.55" fill="#008bfb"/>
<ellipse cx="372.0" cy="516.0" rx="2.8" ry="4.55" fill="#cd0095"/>
<ellipse cx="372.8" cy="524.0" rx="2.8" ry="4.55" fill="#ff0051"/>
<ellipse cx="373.7" cy="515.0" rx="2.8" ry="4.55" fill="#008bfb"/>
<ellipse cx="376.8" cy="519.1" rx="2.8" ry="4.55" fill="#8f36bb"/>
<ellipse cx="379.8" cy="519.1" rx="2.8" ry="4.55" fill="#cd0095"/>
<ellipse cx="382.9" cy="519.1" rx="2.8" ry="4.55" fill="#ad13a6"/>
<ellipse cx="385.5" cy="519.1" rx="2.8" ry="4.55" fill="#cd0095"/>
<ellipse cx="389.0" cy="514.0" rx="2.8" ry="4.55" fill="#e50080"/>
<ellipse cx="391.7" cy="520.0" rx="2.8" ry="4.55" fill="#008bfb"/>
<ellipse cx="396.0" cy="514.0" rx="2.8" ry="4.55" fill="#8f36bb"/>
<ellipse cx="396.0" cy="524.0" rx="2.8" ry="4.55" fill="#cd0095"/>
<ellipse cx="399.1" cy="519.1" rx="2.8" ry="4.55" fill="#008bfb"/>
<ellipse cx="400.3" cy="518.0" rx="2.8" ry="4.55" fill="#008bfb"/>
<ellipse cx="402.4" cy="515.0" rx="2.8" ry="4.55" fill="#008bfb"/>
<ellipse cx="405.5" cy="515.0" rx="2.8" ry="4.55" fill="#008bfb"/>
<ellipse cx="408.6" cy="515.0" rx="2.8" ry="4.55" fill="#008bfb"/>
<ellipse cx="406.4" cy="520.0" rx="2.8" ry="4.55" fill="#cd0095"/>
<ellipse cx="409.0" cy="520.0" rx="2.8" ry="4.55" fill="#cd0095"/>
<ellipse cx="412.5" cy="520.0" rx="2.8" ry="4.55" fill="#f70069"/>
<ellipse cx="416.9" cy="514.0" rx="2.8" ry="4.55" fill="#6f52d4"/>
<ellipse cx="417.3" cy="524.0" rx="2.8" ry="4.55" fill="#6f52d4"/>
<ellipse cx="422.1" cy="519.1" rx="2.8" ry="4.55" fill="#ad13a6"/>
<ellipse cx="425.2" cy="519.1" rx="2.8" ry="4.55" fill="#cd0095"/>
<ellipse cx="440.5" cy="519.1" rx="2.8" ry="4.55" fill="#ff0051"/>
<ellipse cx="453.2" cy="519.1" rx="2.8" ry="4.55" fill="#3968e7"/>
<line x1="121.6" y1="544.5" x2="603.2" y2="544.5" stroke="#111" stroke-width="1.7"/>
<line x1="122.20" y1="544.5" x2="122.20" y2="552.3" stroke="#333" stroke-width="1.1"/>
<rect x="108.65" y="568.10" width="8.8" height="1.5" fill="#2e2e2e"/>
<text x="127.45" y="575.6" font-size="26" text-anchor="middle" fill="#2e2e2e" transform="translate(127.45 0) scale(0.58 1) translate(-127.45 0)">40</text>
<line x1="190.80" y1="544.5" x2="190.80" y2="552.3" stroke="#333" stroke-width="1.1"/>
<rect x="177.25" y="568.10" width="8.8" height="1.5" fill="#2e2e2e"/>
<text x="196.05" y="575.6" font-size="26" text-anchor="middle" fill="#2e2e2e" transform="translate(196.05 0) scale(0.58 1) translate(-196.05 0)">30</text>
<line x1="259.40" y1="544.5" x2="259.40" y2="552.3" stroke="#333" stroke-width="1.1"/>
<rect x="245.85" y="568.10" width="8.8" height="1.5" fill="#2e2e2e"/>
<text x="264.65" y="575.6" font-size="26" text-anchor="middle" fill="#2e2e2e" transform="translate(264.65 0) scale(0.58 1) translate(-264.65 0)">20</text>
<line x1="328.00" y1="544.5" x2="328.00" y2="552.3" stroke="#333" stroke-width="1.1"/>
<rect x="314.45" y="568.10" width="8.8" height="1.5" fill="#2e2e2e"/>
<text x="333.25" y="575.6" font-size="26" text-anchor="middle" fill="#2e2e2e" transform="translate(333.25 0) scale(0.58 1) translate(-333.25 0)">10</text>
<line x1="396.60" y1="544.5" x2="396.60" y2="552.3" stroke="#333" stroke-width="1.1"/>
<text x="396.60" y="575.6" font-size="26" text-anchor="middle" fill="#2e2e2e" transform="translate(396.60 0) scale(0.58 1) translate(-396.60 0)">0</text>
<line x1="465.20" y1="544.5" x2="465.20" y2="552.3" stroke="#333" stroke-width="1.1"/>
<text x="465.20" y="575.6" font-size="26" text-anchor="middle" fill="#2e2e2e" transform="translate(465.20 0) scale(0.58 1) translate(-465.20 0)">10</text>
<line x1="533.80" y1="544.5" x2="533.80" y2="552.3" stroke="#333" stroke-width="1.1"/>
<text x="533.80" y="575.6" font-size="26" text-anchor="middle" fill="#2e2e2e" transform="translate(533.80 0) scale(0.58 1) translate(-533.80 0)">20</text>
<line x1="602.40" y1="544.5" x2="602.40" y2="552.3" stroke="#333" stroke-width="1.1"/>
<text x="602.40" y="575.6" font-size="26" text-anchor="middle" fill="#2e2e2e" transform="translate(602.40 0) scale(0.58 1) translate(-602.40 0)">30</text>
<text x="89.8" y="389.20" font-size="28" text-anchor="end" textLength="83.7" lengthAdjust="spacingAndGlyphs" fill="#2e2e2e" >W (kg/m<tspan font-size="19" dy="-8">3</tspan><tspan dy="8">)</tspan></text>
<text x="89.8" y="412.45" font-size="28" text-anchor="end" textLength="89" lengthAdjust="spacingAndGlyphs" fill="#2e2e2e" >AE (kg/m<tspan font-size="19" dy="-8">3</tspan><tspan dy="8">)</tspan></text>
<text x="89.8" y="435.70" font-size="28" text-anchor="end" textLength="54" lengthAdjust="spacingAndGlyphs" fill="#2e2e2e" >SF (%)</text>
<text x="89.8" y="458.95" font-size="28" text-anchor="end" textLength="59" lengthAdjust="spacingAndGlyphs" fill="#2e2e2e" >s/a (%)</text>
<text x="89.8" y="482.20" font-size="28" text-anchor="end" textLength="53.2" lengthAdjust="spacingAndGlyphs" fill="#2e2e2e" >FA (%)</text>
<text x="89.8" y="505.45" font-size="28" text-anchor="end" textLength="88.2" lengthAdjust="spacingAndGlyphs" fill="#2e2e2e" >SP (kg/m<tspan font-size="19" dy="-8">3</tspan><tspan dy="8">)</tspan></text>
<text x="89.8" y="528.70" font-size="28" text-anchor="end" textLength="67.2" lengthAdjust="spacingAndGlyphs" fill="#2e2e2e" >W/B (%)</text>
<text x="202.0" y="611.0" font-size="29.8" text-anchor="start" textLength="45.5" lengthAdjust="spacingAndGlyphs" fill="#2e2e2e" >SHAP</text>
<text x="253.2" y="611.0" font-size="29.8" text-anchor="start" textLength="267.5" lengthAdjust="spacingAndGlyphs" fill="#2e2e2e" >value (impact on model output)</text>
<text x="351.8" y="339.9" font-size="27" text-anchor="start" textLength="21.2" lengthAdjust="spacingAndGlyphs" fill="#2e2e2e" >(b)</text>
<rect x="631.95" y="355.8" width="1.3" height="187.30" fill="url(#cb)" opacity="0.8"/>
<text x="638.8" y="364.8" font-size="25" text-anchor="start" textLength="33.5" lengthAdjust="spacingAndGlyphs" fill="#2e2e2e" >High</text>
<text x="638.8" y="552.7" font-size="25" text-anchor="start" textLength="26.4" lengthAdjust="spacingAndGlyphs" fill="#2e2e2e" >Low</text>
<text transform="translate(682.9 537.0) rotate(-90)" font-size="16.8" style="stroke-width:0.1px" textLength="175.4" lengthAdjust="spacingAndGlyphs" fill="#2e2e2e">Feature value</text>
</g></svg></body></html>
